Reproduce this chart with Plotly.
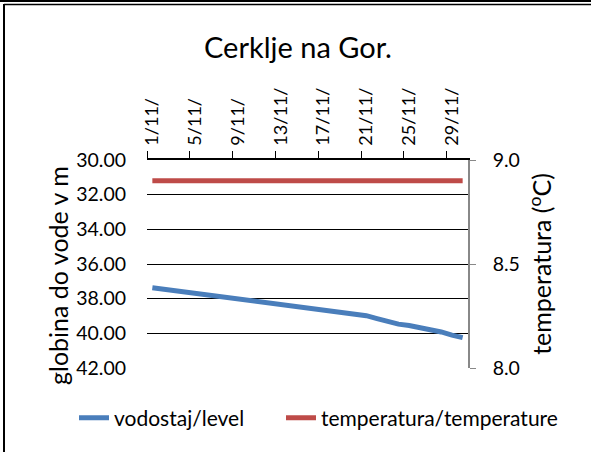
import plotly.graph_objects as go

days = [f"{d}/11/" for d in range(1, 31)]
level = [37.37, 37.45, 37.52, 37.60, 37.68, 37.77, 37.86, 37.93, 38.00, 38.08,
         38.16, 38.24, 38.32, 38.40, 38.48, 38.57, 38.66, 38.76, 38.86, 38.93,
         38.98, 39.15, 39.33, 39.47, 39.55, 39.65, 39.78, 39.92, 40.10, 40.25]
temperature = [8.9] * 30

W, H = 591, 452
L, R, T, B = 147, 123, 160, 84
PW, PH = W - L - R, H - T - B
FONT = "Lato"


def px(x):
    return (x - L) / PW


def py(y):
    return (H - B - y) / PH


fig = go.Figure()
fig.add_trace(go.Scatter(x=days, y=level, mode="lines", name="vodostaj/level",
                         line=dict(color="#4a7ebb", width=5), yaxis="y", legend="legend"))
fig.add_trace(go.Scatter(x=days, y=temperature, mode="lines", name="temperatura/temperature",
                         line=dict(color="#be4b48", width=5), yaxis="y2", legend="legend2"))

shapes = [
    dict(type="line", xref="paper", yref="paper", x0=px(0), x1=px(W), y0=py(1), y1=py(1),
         line=dict(color="black", width=2)),
    dict(type="line", xref="paper", yref="paper", x0=px(4), x1=px(W), y0=py(4.5), y1=py(4.5),
         line=dict(color="black", width=1.5)),
    dict(type="line", xref="paper", yref="paper", x0=px(4), x1=px(4), y0=py(4), y1=py(H),
         line=dict(color="black", width=2)),
]

leg_common = dict(orientation="h", yanchor="middle", font=dict(size=21, family=FONT),
                  bgcolor="rgba(0,0,0,0)", tracegroupgap=0)

fig.update_layout(
    width=W, height=H,
    margin=dict(l=L, r=R, t=T, b=B, autoexpand=False),
    paper_bgcolor="white", plot_bgcolor="white",
    font=dict(family=FONT, color="black", size=20),
    title=dict(text="Cerklje na Gor.", x=298 / W, xanchor="center", y=1 - 48 / H, yanchor="middle",
               font=dict(size=29, family=FONT)),
    showlegend=True,
    legend=dict(x=px(74), y=py(418), xanchor="left", **leg_common),
    legend2=dict(x=px(281), y=py(418), xanchor="left", **leg_common),
    xaxis=dict(type="category", side="top", tickmode="linear", tick0=0, dtick=4,
               tickson="boundaries", ticks="outside", ticklen=7, tickcolor="black",
               showline=True, linecolor="black", linewidth=1.5, showgrid=False, automargin=False,
               tickangle=-90, tickfont=dict(size=18), ticklabelstandoff=9, range=[-0.5, 29.5]),
    yaxis=dict(range=[42, 30], dtick=2, tickformat=".2f", showgrid=True, gridcolor="black",
               gridwidth=1.3, showline=False, zeroline=False, ticks="", ticklabelstandoff=20,
               tickfont=dict(size=19.5), automargin=False),
    yaxis2=dict(overlaying="y", side="right", range=[8, 9], dtick=0.5, tickformat=".1f",
                showgrid=False, zeroline=False, showline=True, linecolor="#888888", linewidth=1.5,
                ticks="outside", ticklen=6, tickcolor="#888888", ticklabelstandoff=13,
                tickfont=dict(size=19.5), automargin=False,
                title=dict(text="temperatura (<sup>o</sup>C)", font=dict(size=25), standoff=15)),
    annotations=[
        dict(text="globina do vode v m", textangle=-90, xref="paper", yref="paper",
             x=px(58), y=py(276), xanchor="center", yanchor="middle", showarrow=False,
             font=dict(size=25, family=FONT, color="black")),
    ],
    shapes=shapes,
)

fig.write_html("out.html", config={"displayModeBar": False},
               post_script="document.body.style.margin='0';")
